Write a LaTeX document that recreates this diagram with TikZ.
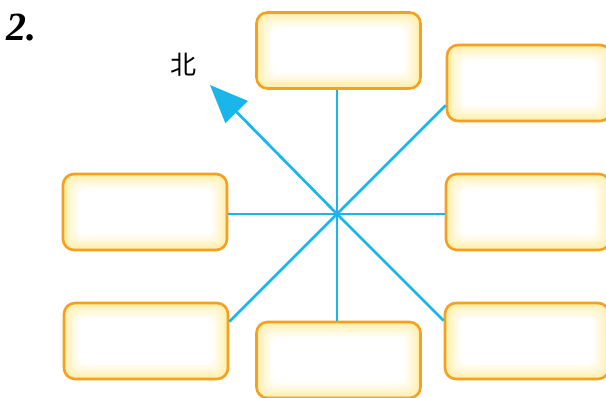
\documentclass[tikz,border=0pt]{standalone}
\usepackage{fontspec}
\setmainfont{Liberation Serif}
\newfontfamily\cjk{Noto Sans CJK SC}
\usetikzlibrary{arrows.meta,calc}
\definecolor{boxorange}{HTML}{F5A01E}
\definecolor{linecyan}{HTML}{1AB6EA}
\definecolor{glow}{HTML}{FFEFA8}
\tikzset{
  answerbox/.style={minimum width=164pt,minimum height=76pt,inner sep=0pt,
    rounded corners=11pt,draw=boxorange,line width=2.6pt,fill=glow,
    path picture={
      \foreach \i/\p in {2/85,4/70,6/55,8/42,10/30,12/18,14/8,16/0}{
        \fill[glow!\p!white,rounded corners=8pt] ([shift={(\i pt,\i pt)}]path picture bounding box.south west) rectangle ([shift={(-\i pt,-\i pt)}]path picture bounding box.north east);
      }
    }},
  spoke/.style={draw=linecyan,line width=2.7pt},
}
\begin{document}
\begin{tikzpicture}[x=1pt,y=1pt]
\useasboundingbox (0,0) rectangle (606,397);
% centre
\coordinate (c) at (337,183);
\coordinate (n) at (210,312);
% boxes
\node[answerbox] (t)  at (338.5,346.5) {};
\node[answerbox] (tr) at (529,314) {};
\node[answerbox] (r)  at (528,185) {};
\node[answerbox] (br) at (527,56) {};
\node[answerbox] (b)  at (338.5,37) {};
\node[answerbox] (l)  at (145,185) {};
\node[answerbox] (bl) at (146,56) {};
% spokes
\draw[spoke] (c) -- (c |- t.south);
\draw[spoke] (c) -- (c |- b.north);
\draw[spoke] (c) -- (c -| l.east);
\draw[spoke] (c) -- (c -| r.west);
\draw[spoke] let \p1=(c), \p2=(tr.west) in (c) -- (\x2,{\y1+\x2-\x1});
\draw[spoke] let \p1=(c), \p2=(br.west) in (c) -- (\x2,{\y1-(\x2-\x1)});
\draw[spoke] let \p1=(c), \p2=(bl.east) in (c) -- (\x2,{\y1-(\x1-\x2)});
\draw[spoke,-{Triangle[length=38pt,width=31pt]}] (c) -- (n);
% labels
\node[font=\cjk\fontsize{26}{26}\selectfont] (north) at (183,332) {北};
\node[font=\bfseries\itshape\fontsize{40}{40}\selectfont,anchor=west,inner sep=0pt] (num) at (6,369) {2.};
\end{tikzpicture}
\end{document}
